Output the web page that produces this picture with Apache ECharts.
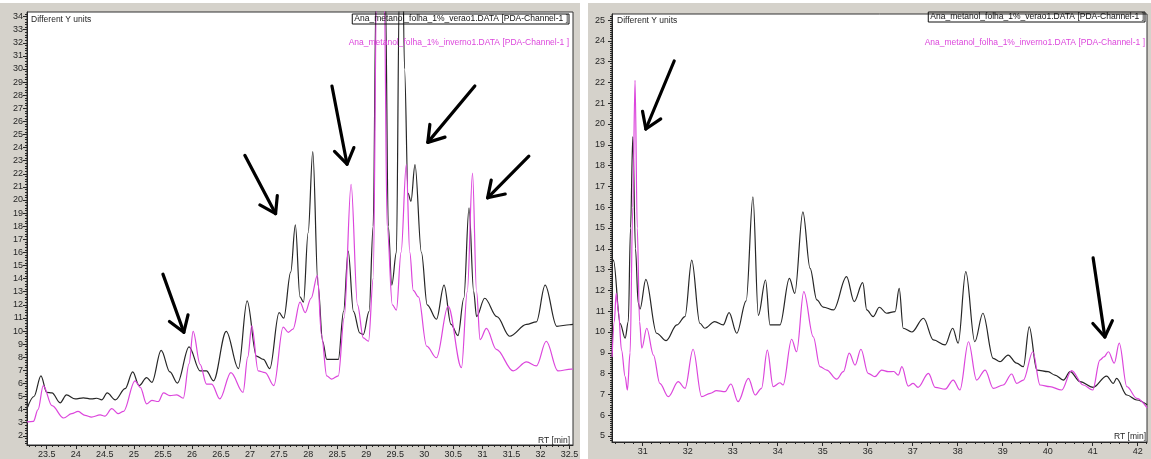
<!DOCTYPE html>
<html>
<head>
<meta charset="utf-8">
<script src="https://cdn.jsdelivr.net/npm/echarts@6/dist/echarts.min.js"></script>
<style>
  html, body { margin: 0; padding: 0; background: #ffffff; }
  #chart { width: 1151px; height: 459px; }
</style>
</head>
<body>
<div id="chart"></div>
<script>
// ---- Series names ----
const NAME_VERAO = 'Ana_metanol_folha_1%_verao1.DATA [PDA-Channel-1 ]';
const NAME_INVERNO = 'Ana_metanol_folha_1%_inverno1.DATA [PDA-Channel-1 ]';

// ---- Left window (RT 23.2 - 32.5 min): [RT, signal] ----
const leftVerao = [
  [23.16,4.07],[23.28,5.0],[23.4,6.58],[23.5,5.32],[23.59,5.28],[23.73,4.52],[23.84,5.12],[23.99,4.82],
  [24.13,4.9],[24.27,4.82],[24.36,4.87],[24.45,4.75],[24.54,5.28],[24.68,4.75],[24.85,5.6],[24.98,6.88],
  [25.09,5.83],[25.22,6.45],[25.31,6.08],[25.47,8.52],[25.62,6.88],[25.75,6.03],[25.95,8.79],[26.14,6.96],
  [26.25,6.96],[26.37,6.2],[26.59,9.98],[26.8,7.13],[26.95,12.3],[27.11,8.09],[27.23,7.84],[27.34,7.13],
  [27.5,11.4],[27.58,10.98],[27.7,14.5],[27.78,18.1],[27.86,12.6],[27.92,12.2],[28.0,17.5],[28.08,23.7],
  [28.17,13.5],[28.25,9.2],[28.32,7.84],[28.52,7.84],[28.61,11.5],[28.69,16.1],[28.78,11.5],[28.89,9.85],
  [28.95,9.73],[29.05,11.5],[29.12,18],[29.17,36],[29.25,45],[29.33,36],[29.38,18],[29.44,13.5],
  [29.52,16],[29.57,36],[29.61,45],[29.66,30],[29.72,20.5],[29.77,19.9],[29.84,22.7],[29.95,16],
  [30.05,12],[30.21,10.9],[30.34,13.5],[30.46,10.5],[30.58,9.65],[30.68,12.5],[30.77,19.4],[30.85,13],
  [30.9,11.1],[31.04,12.5],[31.25,11.1],[31.47,9.6],[31.76,10.5],[31.93,10.7],[32.08,13.5],[32.28,10.36],
  [32.5,10.48],[32.56,10.5]
];
const leftInverno = [
  [23.16,3.06],[23.27,3.1],[23.35,4.0],[23.44,5.83],[23.59,4.3],[23.79,3.36],[23.93,3.69],[24.04,3.86],
  [24.16,3.56],[24.27,3.43],[24.42,3.6],[24.5,3.5],[24.62,4.07],[24.73,3.69],[24.82,3.86],[25.02,6.2],
  [25.11,5.7],[25.22,4.44],[25.31,4.7],[25.42,4.62],[25.51,5.28],[25.62,5.07],[25.74,5.12],[25.85,4.87],
  [25.95,7.5],[26.02,9.98],[26.14,7.46],[26.25,5.95],[26.34,5.95],[26.48,4.82],[26.67,6.83],[26.88,5.32],
  [26.96,8.0],[27.03,10.4],[27.14,6.96],[27.26,6.83],[27.41,5.83],[27.57,10.3],[27.66,9.9],[27.74,10.15],
  [27.86,12.2],[27.95,11.4],[28.05,12.5],[28.16,14.25],[28.23,9.7],[28.32,6.58],[28.4,6.33],[28.52,6.58],
  [28.62,11.0],[28.74,21.2],[28.85,12],[28.95,9.47],[29.04,9.22],[29.12,14],[29.18,36],[29.25,45],
  [29.31,36],[29.36,18],[29.45,12],[29.52,11.6],[29.6,16],[29.69,22.7],[29.75,16],[29.81,13.1],
  [29.9,12.6],[30.04,8.85],[30.21,7.96],[30.41,11.9],[30.64,7.2],[30.74,13],[30.83,22.05],[30.9,13],
  [30.96,9.35],[31.07,10.2],[31.24,8.6],[31.53,6.96],[31.76,7.64],[31.93,7.34],[32.1,9.22],[32.3,6.96],
  [32.53,7.09],[32.56,7.1]
];

// ---- Right window (RT 30.3 - 42.2 min): [RT, signal] ----
const rightVerao = [
  [30.32,13.3],[30.35,13.46],[30.5,10.4],[30.61,9.7],[30.68,10.5],[30.73,15],[30.78,19.39],[30.84,14],
  [30.9,11.4],[30.94,11.1],[31.07,12.53],[31.31,9.94],[31.52,9.58],[31.76,10.34],[31.94,10.74],[32.09,13.46],
  [32.27,10.42],[32.38,10.18],[32.6,10.5],[32.79,10.34],[32.92,10.93],[33.09,9.94],[33.3,11.5],[33.45,16.5],
  [33.57,10.8],[33.73,12.5],[33.83,10.34],[34.05,10.34],[34.26,12.58],[34.38,11.86],[34.56,15.78],[34.72,13.06],
  [34.87,11.54],[35.01,11.2],[35.24,11.06],[35.53,12.66],[35.7,11.46],[35.89,12.37],[35.98,11.06],[36.12,10.74],
  [36.26,11.19],[36.42,10.9],[36.61,10.98],[36.7,12.1],[36.79,10.18],[36.98,10.0],[37.24,10.66],[37.46,9.62],
  [37.72,9.38],[37.89,10.18],[38.01,9.46],[38.18,12.9],[38.38,9.53],[38.56,10.9],[38.79,8.73],[38.94,8.57],
  [39.12,8.89],[39.31,8.5],[39.46,8.33],[39.59,10.25],[39.76,8.17],[40.01,8.09],[40.16,7.93],[40.35,7.69],
  [40.5,8.09],[40.72,7.61],[41.01,7.34],[41.31,7.88],[41.46,7.53],[41.53,7.77],[41.76,6.97],[41.98,6.73],
  [42.21,6.5]
];
const rightInverno = [
  [30.32,8.8],[30.37,10.5],[30.41,11.86],[30.46,11.0],[30.53,9.13],[30.61,7.85],[30.66,7.21],[30.72,9],
  [30.78,16],[30.83,22.1],[30.88,15],[30.93,10.5],[30.98,9.22],[31.09,10.18],[31.24,8.89],[31.38,7.53],
  [31.57,6.89],[31.79,7.61],[31.94,7.29],[32.12,9.17],[32.31,6.89],[32.5,7.05],[32.64,7.18],[32.83,7.13],
  [32.96,7.5],[33.12,6.65],[33.35,7.77],[33.5,6.97],[33.64,7.29],[33.77,9.13],[33.9,7.37],[34.05,7.56],
  [34.12,7.45],[34.31,9.65],[34.42,9.05],[34.58,11.94],[34.79,9.77],[34.94,8.33],[35.09,8.17],[35.31,7.73],
  [35.46,8.09],[35.59,8.98],[35.72,8.41],[35.85,9.17],[36.01,8.01],[36.16,7.85],[36.31,8.17],[36.46,8.09],
  [36.58,8.1],[36.68,7.93],[36.76,8.33],[36.9,7.4],[37.01,7.53],[37.12,7.34],[37.35,8.01],[37.5,7.34],
  [37.72,7.25],[37.9,7.69],[38.05,7.21],[38.24,9.53],[38.42,7.69],[38.61,8.17],[38.79,7.29],[39.01,7.45],
  [39.2,7.98],[39.31,7.53],[39.46,7.69],[39.67,9.05],[39.83,7.45],[40.05,7.37],[40.31,7.21],[40.53,8.14],
  [40.79,7.45],[41.0,7.21],[41.16,8.65],[41.25,8.8],[41.35,9.05],[41.48,8.5],[41.59,9.46],[41.76,7.37],
  [41.98,6.81],[42.21,6.35]
];

// ---- Hand-drawn arrows: [tailRT, tailSignal, tipRT, tipSignal] ----
const leftArrows = [
  [25.50,14.34,25.86,9.9],
  [26.91,23.41,27.44,18.96],
  [28.41,28.7,28.67,22.73],
  [30.87,28.7,30.06,24.4],
  [31.80,23.34,31.09,20.17]
];
const rightArrows = [
  [31.70,23.03,31.07,19.76],
  [41.01,13.56,41.27,9.76]
];

// ---- Tick labels ----
const leftXTicks = [23.5,24,24.5,25,25.5,26,26.5,27,27.5,28,28.5,29,29.5,30,30.5,31,31.5,32,32.5];
const leftYTicks = [2,3,4,5,6,7,8,9,10,11,12,13,14,15,16,17,18,19,20,21,22,23,24,25,26,27,28,29,30,31,32,33,34];
const rightXTicks = [31,32,33,34,35,36,37,38,39,40,41,42];
const rightYTicks = [5,6,7,8,9,10,11,12,13,14,15,16,17,18,19,20,21,22,23,24,25];

// ---- Axis windows ----
const LEFT_X = [23.16, 32.56], LEFT_Y = [1.3, 34.35];
const RIGHT_X = [30.318, 42.207], RIGHT_Y = [4.71, 25.29];

function minorTicks(lo, hi, step) {
  const out = [];
  const n0 = Math.ceil(lo / step - 1e-9), n1 = Math.floor(hi / step + 1e-9);
  for (let n = n0; n <= n1; n++) out.push(+(n * step).toFixed(4));
  return out;
}

const INK = '#262626';
const PINK = '#dc46dc';
const GRAY = '#d5d2cb';
const FONT = 'Liberation Sans';

function majorX(grid, range, ticks, margin, nameGap, namePad) {
  return {
    type: 'value', gridIndex: grid, min: range[0], max: range[1], position: 'bottom',
    axisLine: { show: true, onZero: false, lineStyle: { color: INK, width: 1 } },
    axisTick: { show: true, inside: false, length: 4, customValues: ticks, lineStyle: { color: INK } },
    axisLabel: { customValues: ticks, margin: margin, fontSize: 9, color: INK, fontFamily: FONT },
    splitLine: { show: false },
    name: 'RT [min]', nameLocation: 'end', nameGap: nameGap,
    nameTextStyle: { fontSize: 8.5, color: INK, fontFamily: FONT, align: 'right', verticalAlign: 'bottom', padding: namePad }
  };
}
function minorX(grid, range, step) {
  return {
    type: 'value', gridIndex: grid, min: range[0], max: range[1], position: 'bottom',
    axisLine: { show: false }, axisLabel: { show: false }, splitLine: { show: false },
    axisTick: { show: true, inside: false, length: 2, customValues: minorTicks(range[0], range[1], step), lineStyle: { color: INK } }
  };
}
function majorY(grid, range, ticks, margin) {
  return {
    type: 'value', gridIndex: grid, min: range[0], max: range[1], position: 'left',
    axisLine: { show: true, onZero: false, lineStyle: { color: INK, width: 1 } },
    axisTick: { show: true, inside: false, length: 4, customValues: ticks, lineStyle: { color: INK } },
    axisLabel: { customValues: ticks, margin: margin, fontSize: 9, color: INK, fontFamily: FONT },
    splitLine: { show: false }
  };
}
function minorY(grid, range, step) {
  return {
    type: 'value', gridIndex: grid, min: range[0], max: range[1], position: 'left',
    axisLine: { show: false }, axisLabel: { show: false }, splitLine: { show: false },
    axisTick: { show: true, inside: false, length: 2, customValues: minorTicks(range[0], range[1], step), lineStyle: { color: INK } }
  };
}

function trace(name, data, color, xi, yi) {
  return {
    type: 'line', name: name, data: data, xAxisIndex: xi, yAxisIndex: yi,
    showSymbol: false, symbol: 'none', smooth: 0.35, smoothMonotone: 'x', clip: true,
    lineStyle: { color: color, width: 1.2 }, itemStyle: { color: color }, animation: false, z: 3
  };
}

function renderArrow(params, api) {
  const p0 = api.coord([api.value(0), api.value(1)]);
  const p1 = api.coord([api.value(2), api.value(3)]);
  const back = Math.atan2(p0[1] - p1[1], p0[0] - p1[0]);
  const len = 18, spread = 0.58;
  const a1 = [p1[0] + len * Math.cos(back + spread), p1[1] + len * Math.sin(back + spread)];
  const a2 = [p1[0] + len * Math.cos(back - spread), p1[1] + len * Math.sin(back - spread)];
  const style = { stroke: '#000', lineWidth: 3.2, fill: null, lineCap: 'round', lineJoin: 'round' };
  return {
    type: 'group',
    children: [
      { type: 'polyline', shape: { points: [p0, p1] }, style: style },
      { type: 'polyline', shape: { points: [a1, p1, a2] }, style: style }
    ]
  };
}
function arrows(data, xi, yi) {
  return {
    type: 'custom', data: data, xAxisIndex: xi, yAxisIndex: yi, renderItem: renderArrow,
    encode: { x: [0, 2], y: [1, 3] }, silent: true, animation: false, z: 6
  };
}

function caption(text, x, y, color, boxed) {
  const style = { text: text, x: x, y: y, fill: color, font: '8.5px "' + FONT + '"', align: 'right', verticalAlign: 'middle' };
  if (boxed) { style.borderColor = '#111'; style.borderWidth = 1; style.padding = [1, 1, 0, 2]; }
  return { type: 'text', z: 20, style: style };
}

const chart = echarts.init(document.getElementById('chart'), null, { renderer: 'canvas' });
chart.setOption({
  animation: false,
  backgroundColor: '#ffffff',
  graphic: [
    { type: 'rect', z: -10, shape: { x: 0, y: 3, width: 580, height: 456 }, style: { fill: GRAY } },
    { type: 'rect', z: -10, shape: { x: 588, y: 3, width: 563, height: 456 }, style: { fill: GRAY } },
    { type: 'text', z: 20, style: { text: 'Different Y units', x: 31, y: 20, fill: INK, font: '8.5px "' + FONT + '"', verticalAlign: 'middle' } },
    { type: 'text', z: 20, style: { text: 'Different Y units', x: 617, y: 21, fill: INK, font: '8.5px "' + FONT + '"', verticalAlign: 'middle' } },
    caption(NAME_VERAO, 569, 19, '#111', true),
    caption(NAME_INVERNO, 569, 43, PINK, false),
    caption(NAME_VERAO, 1145, 17, '#111', true),
    caption(NAME_INVERNO, 1145, 43, PINK, false)
  ],
  grid: [
    { left: 27, top: 12, width: 546, height: 438, show: true, backgroundColor: '#ffffff', borderColor: '#333', borderWidth: 1 },
    { left: 612, top: 14, width: 535, height: 428, show: true, backgroundColor: '#ffffff', borderColor: '#333', borderWidth: 1 }
  ],
  xAxis: [
    majorX(0, LEFT_X, leftXTicks, 5, -3, [0, 0, 0, 0]),
    minorX(0, LEFT_X, 0.1),
    majorX(1, RIGHT_X, rightXTicks, 5, -1, [0, 0, 1, 0]),
    minorX(1, RIGHT_X, 0.2)
  ],
  yAxis: [
    majorY(0, LEFT_Y, leftYTicks, 4),
    minorY(0, LEFT_Y, 0.2),
    majorY(1, RIGHT_Y, rightYTicks, 7),
    minorY(1, RIGHT_Y, 0.1)
  ],
  series: [
    trace(NAME_VERAO, leftVerao, INK, 0, 0),
    trace(NAME_INVERNO, leftInverno, PINK, 0, 0),
    trace(NAME_VERAO, rightVerao, INK, 2, 2),
    trace(NAME_INVERNO, rightInverno, PINK, 2, 2),
    arrows(leftArrows, 0, 0),
    arrows(rightArrows, 2, 2)
  ]
});
</script>
</body>
</html>
